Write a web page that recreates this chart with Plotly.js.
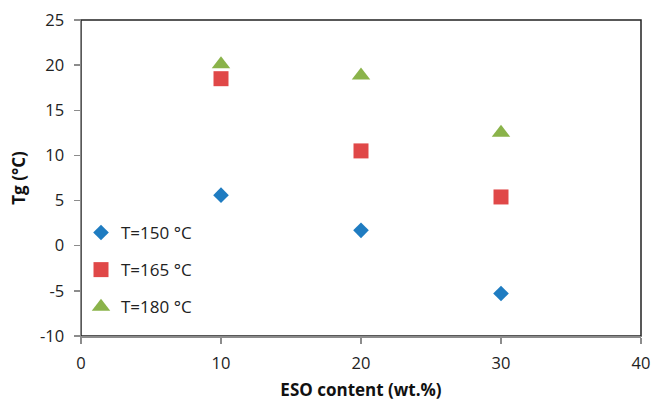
<!DOCTYPE html>
<html>
<head>
<meta charset="utf-8">
<script src="https://cdn.plot.ly/plotly-3.0.1.min.js"></script>
<style>html,body{margin:0;padding:0;background:#fff;}#chart{width:654px;height:401px;}</style>
</head>
<body>
<div id="chart"></div>
<script>
const esoContent = [10, 20, 30];
const tg150 = [5.6, 1.7, -5.3];
const tg165 = [18.5, 10.5, 5.4];
const tg180 = [20.1, 18.85, 12.5];
const seriesNames = ['T=150 °C', 'T=165 °C', 'T=180 °C'];
const xTicks = [0, 10, 20, 30, 40];
const yTicks = [-10, -5, 0, 5, 10, 15, 20, 25];

const fam = '"Open Sans", "Noto Sans", sans-serif';
const tickFont = {family: fam, size: 16.5, color: '#222'};
const legFont = {family: fam, size: 17, color: '#222'};
const titleFont = {family: fam, size: 17, color: '#111'};

const traces = [
  {x: esoContent, y: tg150, name: seriesNames[0], legendgroup: 'a', type: 'scatter', mode: 'markers',
   marker: {symbol: 'diamond', size: 12, color: '#1f7cc1'}},
  {x: esoContent, y: tg165, name: seriesNames[1], legendgroup: 'b', type: 'scatter', mode: 'markers',
   marker: {symbol: 'square', size: 15, color: '#e04848'}},
  {x: esoContent, y: tg180, name: seriesNames[2], legendgroup: 'c', type: 'scatter', mode: 'markers',
   marker: {symbol: 'triangle-up', size: 16, color: '#8ab34a'}}
];

const layout = {
  width: 654, height: 401,
  margin: {l: 81, r: 13, t: 20, b: 65},
  paper_bgcolor: '#fff', plot_bgcolor: '#fff',
  font: tickFont,
  showlegend: true,
  legend: {x: 0.0, y: 0.383, xanchor: 'left', yanchor: 'top', bgcolor: 'rgba(0,0,0,0)',
           font: legFont, tracegroupgap: 12, itemwidth: 30},
  xaxis: {
    range: [0, 40], tickvals: xTicks, ticktext: xTicks.map(String),
    showgrid: false, zeroline: false, showline: true, linecolor: '#8c8c8c', linewidth: 1.5,
    ticks: 'outside', ticklen: 6, tickcolor: '#8c8c8c', tickwidth: 1.5,
    tickfont: tickFont, ticklabelstandoff: 6,
    title: {text: '<b>ESO content (wt.%)</b>', font: titleFont, standoff: 21}
  },
  yaxis: {
    range: [-10, 25], tickvals: yTicks, ticktext: yTicks.map(String),
    showgrid: false, zeroline: false, showline: true, linecolor: '#8c8c8c', linewidth: 1.5,
    ticks: 'outside', ticklen: 6, tickcolor: '#8c8c8c', tickwidth: 1.5,
    tickfont: tickFont, ticklabelstandoff: 6,
    title: {text: '<b>Tg (°C)</b>', font: titleFont, standoff: 10}
  },
  shapes: [
    {type: 'rect', xref: 'paper', yref: 'paper', x0: 0, x1: 1, y0: 0, y1: 1,
     line: {color: '#222', width: 1.5}, layer: 'below'}
  ]
};

Plotly.newPlot('chart', traces, layout, {displayModeBar: false, staticPlot: true});
</script>
</body>
</html>
